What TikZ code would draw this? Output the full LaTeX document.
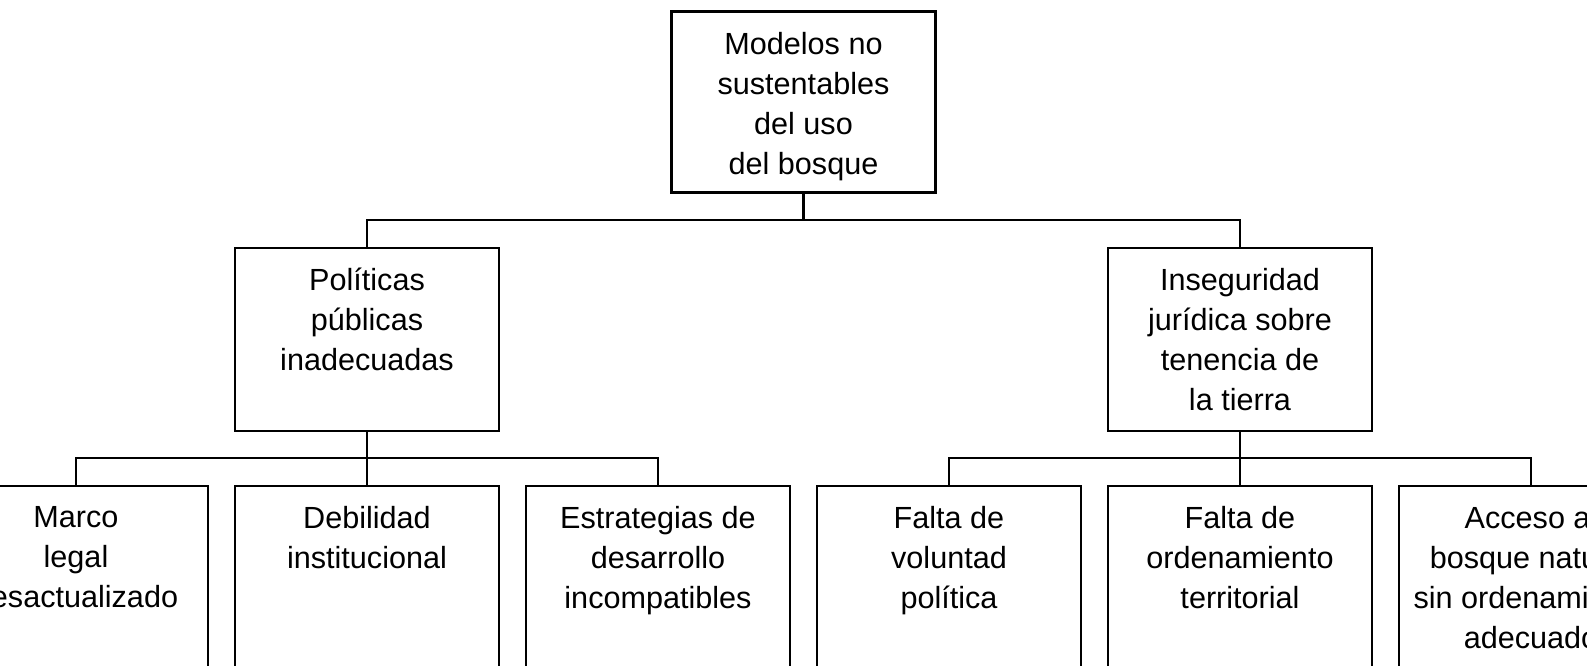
\documentclass[tikz,border=0pt]{standalone}
\usepackage{fontspec}
\setmainfont{Liberation Sans}
\usepackage{tikz}
\usetikzlibrary{positioning}
\tikzstyle{block} = [rectangle, line width=1.2pt, minimum width=132pt, inner sep=0pt, outer sep=0pt, draw=black]
\tikzstyle{txt} = [anchor=north, align=center, inner sep=0pt, yshift=-10pt, font=\fontsize{15.3}{20}\selectfont, execute at begin node={\rule{0pt}{15pt}}]
\tikzstyle{line} = [line width=1.2pt]

\begin{document}
\begin{tikzpicture}[node distance = 13.5pt]
		\useasboundingbox (0,0) rectangle (793.5pt,-332.5pt);
		\node (Modelos) [block, minimum height=90.5pt, anchor=north, label={[txt, name=ModelosText]north:{Modelos no\\sustentables\\del uso\\del bosque}}] at (401.75pt,-5.75pt) {};
		\node (Politicas) [block, minimum height=91.5pt, below left = 27.75pt and 86.25pt of Modelos, label={[txt, name=PoliticasText]north:{Políticas\\públicas\\inadecuadas}}] {};
		\node (Inseguridad) [block, minimum height=91.5pt, below right = 27.75pt and 86.25pt of Modelos, label={[txt, name=InseguridadText]north:{Inseguridad\\jurídica sobre\\tenencia de\\la tierra}}] {};
		% causes under the first branch
		\node (Debilidad) [block, minimum height=100pt, below = 27.5pt of Politicas, label={[txt, name=DebilidadText]north:{Debilidad\\institucional}}] {};
		\node (Marco) [block, minimum height=100pt, left = of Debilidad, label={[txt, name=MarcoText]north:{Marco\\legal\\desactualizado}}] {};
		\node (Estrategias) [block, minimum height=100pt, right = of Debilidad, label={[txt, name=EstrategiasText]north:{Estrategias de\\desarrollo\\incompatibles}}] {};
		% causes under the second branch
		\node (Ordenamiento) [block, minimum height=100pt, below = 27.5pt of Inseguridad, label={[txt, name=OrdenamientoText]north:{Falta de\\ordenamiento\\territorial}}] {};
		\node (Voluntad) [block, minimum height=100pt, left = of Ordenamiento, label={[txt, name=VoluntadText]north:{Falta de\\voluntad\\política}}] {};
		\node (Acceso) [block, minimum height=100pt, right = of Ordenamiento, label={[txt, name=AccesoText]north:{Acceso al\\bosque natural\\sin ordenamiento\\adecuado}}] {};
		\draw [line] (Modelos.south) -- +(0,-13.75pt) -| (Politicas.north);
		\draw [line] (Modelos.south) -- +(0,-13.75pt) -| (Inseguridad.north);
		\draw [line] (Politicas.south) -- +(0,-13.5pt) -| (Marco.north);
		\draw [line] (Politicas.south) -- (Debilidad.north);
		\draw [line] (Politicas.south) -- +(0,-13.5pt) -| (Estrategias.north);
		\draw [line] (Inseguridad.south) -- +(0,-13.5pt) -| (Voluntad.north);
		\draw [line] (Inseguridad.south) -- (Ordenamiento.north);
		\draw [line] (Inseguridad.south) -- +(0,-13.5pt) -| (Acceso.north);
\end{tikzpicture}
\end{document}
